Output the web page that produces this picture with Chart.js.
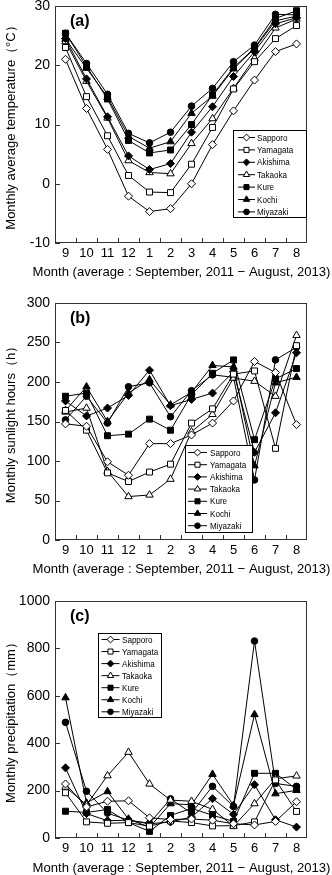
<!DOCTYPE html>
<html>
<head>
<meta charset="utf-8">
<script src="https://cdn.jsdelivr.net/npm/chart.js"></script>
<style>
html, body { margin: 0; padding: 0; background: #fff; overflow: hidden; }
#wrap { position: relative; width: 332px; height: 875px; overflow: hidden; }
.panel { position: absolute; left: 0; width: 332px; }
</style>
</head>
<body>
<div id="wrap">
  <div class="panel" style="top:0px;height:290px"><canvas id="chartA"></canvas></div>
  <div class="panel" style="top:290px;height:297px"><canvas id="chartB"></canvas></div>
  <div class="panel" style="top:587px;height:298px"><canvas id="chartC"></canvas></div>
</div>
<script>
const months = ['9', '10', '11', '12', '1', '2', '3', '4', '5', '6', '7', '8'];
const stations = ['Sapporo', 'Yamagata', 'Akishima', 'Takaoka', 'Kure', 'Kochi', 'Miyazaki'];

// (a) monthly average temperature (°C)
const tempSapporo  = [21.0, 12.7, 5.8, -2.1, -4.7, -4.2, 0.0, 6.6, 12.3, 17.5, 22.3, 23.6];
const tempYamagata = [23.0, 14.7, 8.1, 1.4, -1.4, -1.5, 3.3, 9.5, 16.0, 20.6, 24.5, 26.7];
const tempAkishima = [24.5, 17.7, 11.3, 4.7, 2.4, 3.4, 8.7, 13.0, 18.1, 22.3, 27.0, 28.0];
const tempTakaoka  = [24.0, 17.3, 11.1, 3.9, 1.9, 1.7, 6.8, 11.0, 16.1, 21.2, 26.3, 27.8];
const tempKure     = [25.4, 19.8, 14.3, 7.3, 5.2, 5.7, 10.0, 15.0, 19.6, 22.9, 27.9, 29.2];
const tempKochi    = [24.4, 19.5, 14.6, 8.0, 6.0, 7.1, 11.9, 14.8, 19.4, 22.8, 27.5, 28.3];
const tempMiyazaki = [25.4, 20.3, 15.1, 8.5, 6.9, 8.7, 13.1, 16.1, 20.6, 23.4, 28.6, 28.5];

// (b) monthly sunlight hours (h)
const sunSapporo  = [147, 144, 99, 82, 122, 122, 133, 148, 176, 226, 212, 146];
const sunYamagata = [164, 139, 85, 74, 86, 96, 148, 166, 210, 214, 116, 246];
const sunAkishima = [176, 157, 167, 183, 215, 170, 178, 186, 213, 111, 161, 237];
const sunTakaoka  = [162, 167, 87, 55, 57, 77, 137, 159, 205, 201, 182, 259];
const sunKure     = [182, 186, 132, 134, 153, 139, 184, 211, 228, 127, 204, 217];
const sunKochi    = [164, 194, 150, 186, 203, 171, 187, 221, 219, 94, 199, 206];
const sunMiyazaki = [152, 182, 148, 194, 199, 156, 189, 209, 206, 76, 228, 244];

// (c) monthly precipitation (mm)
const rainSapporo  = [228, 131, 155, 157, 85, 78, 80, 75, 60, 55, 70, 153];
const rainYamagata = [191, 68, 62, 65, 50, 72, 65, 51, 52, 68, 245, 112];
const rainAkishima = [296, 103, 73, 75, 60, 68, 88, 166, 100, 225, 77, 46];
const rainTakaoka  = [215, 140, 263, 362, 228, 160, 155, 121, 50, 145, 250, 262];
const rainKure     = [113, 108, 120, 65, 28, 95, 125, 96, 70, 273, 273, 205];
const rainKochi    = [592, 148, 196, 80, 45, 145, 140, 269, 138, 521, 187, 201];
const rainMiyazaki = [488, 197, 105, 75, 62, 165, 105, 218, 133, 831, 230, 218];

const xTitle = 'Month (average : September, 2011 − August, 2013)';
const FONT = "'Liberation Sans', Arial, sans-serif";

// marker style per station, same order as stations
const markers = [
  { style: 'rectRot', fill: '#fff', r: 4 },
  { style: 'rect', fill: '#fff', r: 4.2 },
  { style: 'rectRot', fill: '#000', r: 4 },
  { style: 'triangle', fill: '#fff', r: 4.3 },
  { style: 'rect', fill: '#000', r: 4.2 },
  { style: 'triangle', fill: '#000', r: 4.3 },
  { style: 'circle', fill: '#000', r: 3.3 },
];

function drawMarker(ctx, m, x, y, r) {
  ctx.fillStyle = m.fill;
  ctx.strokeStyle = '#000';
  ctx.lineWidth = 1;
  if (Chart.helpers && Chart.helpers.drawPoint) {
    Chart.helpers.drawPoint(ctx, { pointStyle: m.style, radius: r, borderWidth: 1, rotation: 0 }, x, y);
  }
}

// frame, inward tick marks, panel letter, x title and the boxed legend
const panelDecor = {
  id: 'panelDecor',
  afterDraw(chart, args, opts) {
    const { ctx, chartArea: a } = chart;
    const x = chart.scales.x, y = chart.scales.y;
    ctx.save();
    ctx.strokeStyle = '#333';
    ctx.lineWidth = 1;
    ctx.strokeRect(Math.round(a.left) + 0.5, Math.round(a.top) + 0.5,
      Math.round(a.right - a.left) - 1, Math.round(a.bottom - a.top) - 1);
    ctx.beginPath();
    y.ticks.forEach(t => {
      const py = Math.round(y.getPixelForValue(t.value)) + 0.5;
      ctx.moveTo(a.left, py);
      ctx.lineTo(a.left + 5, py);
    });
    for (let i = 0; i < months.length - 1; i++) {
      const px = Math.round((x.getPixelForValue(i) + x.getPixelForValue(i + 1)) / 2) + 0.5;
      ctx.moveTo(px, a.bottom);
      ctx.lineTo(px, a.bottom - 5);
    }
    ctx.stroke();

    ctx.fillStyle = '#000';
    ctx.font = 'bold 16px ' + FONT;
    ctx.textBaseline = 'middle';
    ctx.textAlign = 'left';
    ctx.fillText(opts.letter, a.left + 15, a.top + 16);

    // x title drawn here so it is not squeezed to the axis width
    ctx.font = '13.1px ' + FONT;
    ctx.textAlign = 'center';
    ctx.fillText(xTitle, (a.left + a.right) / 2 + 0.5, a.bottom + opts.titleOffset);
    ctx.textAlign = 'left';

    const L = opts.legend;
    const bx = a.left + L.dx, by = a.top + L.dy;
    ctx.fillStyle = '#fff';
    ctx.fillRect(bx, by, L.w, L.h);
    ctx.strokeStyle = '#000';
    ctx.strokeRect(bx + 0.5, by + 0.5, L.w, L.h);
    ctx.font = '9.5px ' + FONT;
    stations.forEach((name, i) => {
      const ry = by + L.first + i * L.gap;
      ctx.strokeStyle = '#000';
      ctx.beginPath();
      ctx.moveTo(bx + L.line0, ry);
      ctx.lineTo(bx + L.line1, ry);
      ctx.stroke();
      drawMarker(ctx, markers[i], bx + (L.line0 + L.line1) / 2, ry, markers[i].r * 0.85);
      ctx.fillStyle = '#000';
      // the reference legend uses a narrow face, so squeeze the text a little
      ctx.save();
      ctx.translate(bx + L.text, ry + 0.5);
      ctx.scale(0.85, 1);
      ctx.fillText(name, 0, 0);
      ctx.restore();
    });
    ctx.restore();
  }
};

function makeChart(id, cfg) {
  const datasets = stations.map((name, i) => ({
    label: name,
    data: cfg.series[i],
    borderColor: '#000',
    borderWidth: 1,
    backgroundColor: markers[i].fill,
    pointStyle: markers[i].style,
    pointRadius: markers[i].r,
    pointBorderWidth: 1,
    pointBorderColor: '#000',
    pointBackgroundColor: markers[i].fill,
    tension: 0,
  }));
  return new Chart(document.getElementById(id), {
    type: 'line',
    data: { labels: months, datasets: datasets },
    options: {
      responsive: true,
      maintainAspectRatio: false,
      animation: false,
      layout: { padding: { top: cfg.padTop, right: 25, left: 0, bottom: 0 } },
      plugins: {
        legend: { display: false },
        tooltip: { enabled: false },
        panelDecor: { letter: cfg.letter, legend: cfg.legend, titleOffset: cfg.titleOffset },
      },
      scales: {
        x: {
          offset: true,
          ticks: { color: '#000', font: { family: FONT, size: 13 }, padding: 3, maxRotation: 0, autoSkip: false },
          grid: { display: false, drawTicks: false },
          border: { display: false },
          title: { display: false },
          afterFit(scale) { scale.height = 47; scale.paddingLeft = 0; scale.paddingRight = 0; },
        },
        y: {
          min: cfg.min,
          max: cfg.max,
          ticks: { stepSize: cfg.step, color: '#000', font: { family: FONT, size: 14 }, padding: 5, callback: v => String(v) },
          grid: { display: false, drawTicks: false },
          border: { display: false },
          title: { display: true, text: cfg.yTitle, color: '#000', font: { family: FONT, size: 13 }, padding: { top: 4, bottom: 0 } },
          afterFit(scale) { scale.width = 55; scale.paddingTop = 0; scale.paddingBottom = 0; },
        },
      },
    },
    plugins: [panelDecor],
  });
}

makeChart('chartA', {
  series: [tempSapporo, tempYamagata, tempAkishima, tempTakaoka, tempKure, tempKochi, tempMiyazaki],
  min: -10, max: 30, step: 10, padTop: 6, titleOffset: 29.5, letter: '(a)',
  yTitle: 'Monthly average temperature（°C）',
  legend: { dx: 178, dy: 124, w: 73, h: 87, first: 7.5, gap: 12.4, line0: 5, line1: 22, text: 24 },
});
makeChart('chartB', {
  series: [sunSapporo, sunYamagata, sunAkishima, sunTakaoka, sunKure, sunKochi, sunMiyazaki],
  min: 0, max: 300, step: 50, padTop: 13, titleOffset: 29.5, letter: '(b)',
  yTitle: 'Monthly sunlight hours（h）',
  legend: { dx: 130, dy: 142, w: 67, h: 87, first: 7.5, gap: 12.2, line0: 3, line1: 22, text: 25 },
});
makeChart('chartC', {
  series: [rainSapporo, rainYamagata, rainAkishima, rainTakaoka, rainKure, rainKochi, rainMiyazaki],
  min: 0, max: 1000, step: 200, padTop: 14, titleOffset: 30.5, letter: '(c)',
  yTitle: 'Monthly precipitation（mm）',
  legend: { dx: 43, dy: 32, w: 63, h: 84, first: 6.5, gap: 12.05, line0: 3.5, line1: 21.5, text: 24 },
});
</script>
</body>
</html>
